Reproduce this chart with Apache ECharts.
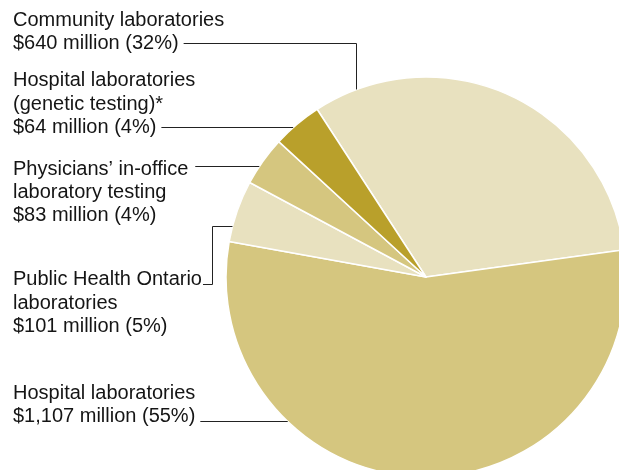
<!DOCTYPE html>
<html>
<head>
<meta charset="utf-8">
<script src="https://cdn.jsdelivr.net/npm/echarts@6/dist/echarts.min.js"></script>
<style>
  html, body { margin: 0; padding: 0; background: #ffffff; }
  #chart { width: 619px; height: 470px; }
</style>
</head>
<body>
<div id="chart"></div>
<script>
// Laboratory spending by provider type, in slice order (clockwise from the top-left)
const categories = [
  'Community laboratories',
  'Hospital laboratories',
  'Public Health Ontario laboratories',
  'Physicians’ in-office laboratory testing',
  'Hospital laboratories (genetic testing)*'
];
const labelNames = [
  'Community laboratories',
  'Hospital laboratories',
  'Public Health Ontario\nlaboratories',
  'Physicians’ in-office\nlaboratory testing',
  'Hospital laboratories\n(genetic testing)*'
];
const spendMillions = [640, 1107, 101, 83, 64];
const sharePercent = [32, 55, 5, 4, 4];

// Slice fills
const sliceColors = ['#e8e1bf', '#d5c67f', '#e8e1bf', '#d5c67f', '#b9a02b'];

// Pie geometry (pixels)
const CX = 426, CY = 277, R = 200;

// Label typography
const FONT_FAMILY = '"Liberation Sans", Arial, sans-serif';
const FONT_SIZE = 20;
const LINE_H = 23.4;
const TEXT_X = 13;
const TEXT_COLOR = '#151515';
const LEADER_COLOR = '#222222';

// Label blocks: which slice, top of the block, which text line the leader leaves from,
// the gap after the text, and how the leader travels to the rim of the pie
const labelBlocks = [
  { idx: 0, top: 8.6,   attach: 1, gap: 5, leader: { y: 43.5,  kind: 'down', x: 356.5 } },
  { idx: 4, top: 69.0,  attach: 2, gap: 5, leader: { y: 127.5 } },
  { idx: 3, top: 157.3, attach: 0, gap: 7, leader: { y: 166.5 } },
  { idx: 2, top: 268.0, attach: 0, gap: 1, leader: { y: 284.5, kind: 'up', x: 212.5, y2: 226.5 } },
  { idx: 1, top: 381.3, attach: 1, gap: 5, leader: { y: 421.5 } }
];

const measureCtx = document.createElement('canvas').getContext('2d');
measureCtx.font = FONT_SIZE + 'px ' + FONT_FAMILY;

function money(v) {
  return '$' + v.toLocaleString('en-US') + ' million';
}
function labelLines(i) {
  return labelNames[i].split('\n').concat(money(spendMillions[i]) + ' (' + sharePercent[i] + '%)');
}
// x of the pie's left rim at a given height
function rimXAt(y) {
  return CX - Math.sqrt(R * R - (y - CY) * (y - CY));
}
// y of the pie's upper rim at a given x
function rimYAt(x) {
  return CY - Math.sqrt(R * R - (x - CX) * (x - CX));
}

const graphics = [];
labelBlocks.forEach(function (b) {
  const lines = labelLines(b.idx);
  graphics.push({
    type: 'text',
    silent: true,
    style: {
      text: lines.join('\n'),
      x: TEXT_X,
      y: b.top,
      fontSize: FONT_SIZE,
      fontFamily: FONT_FAMILY,
      lineHeight: LINE_H,
      fill: TEXT_COLOR,
      verticalAlign: 'top',
      align: 'left'
    }
  });
  const x0 = TEXT_X + measureCtx.measureText(lines[b.attach]).width + b.gap;
  const L = b.leader;
  let pts;
  if (L.kind === 'down') {
    pts = [[x0, L.y], [L.x, L.y], [L.x, rimYAt(L.x)]];
  } else if (L.kind === 'up') {
    pts = [[x0, L.y], [L.x, L.y], [L.x, L.y2], [rimXAt(L.y2), L.y2]];
  } else {
    pts = [[x0, L.y], [rimXAt(L.y), L.y]];
  }
  graphics.push({
    type: 'polyline',
    silent: true,
    z: 10,
    shape: { points: pts },
    style: { stroke: LEADER_COLOR, lineWidth: 1, fill: null }
  });
});

const chart = echarts.init(document.getElementById('chart'), null, { renderer: 'canvas' });
chart.setOption({
  animation: false,
  backgroundColor: '#ffffff',
  series: [{
    type: 'pie',
    center: [CX, CY],
    radius: [0, R],
    startAngle: 123,
    clockwise: true,
    silent: true,
    avoidLabelOverlap: false,
    label: { show: false },
    labelLine: { show: false },
    emphasis: { disabled: true },
    itemStyle: { borderColor: '#ffffff', borderWidth: 1.5 },
    data: categories.map(function (name, i) {
      return { name: name, value: sharePercent[i], itemStyle: { color: sliceColors[i] } };
    })
  }],
  graphic: graphics
});
</script>
</body>
</html>
